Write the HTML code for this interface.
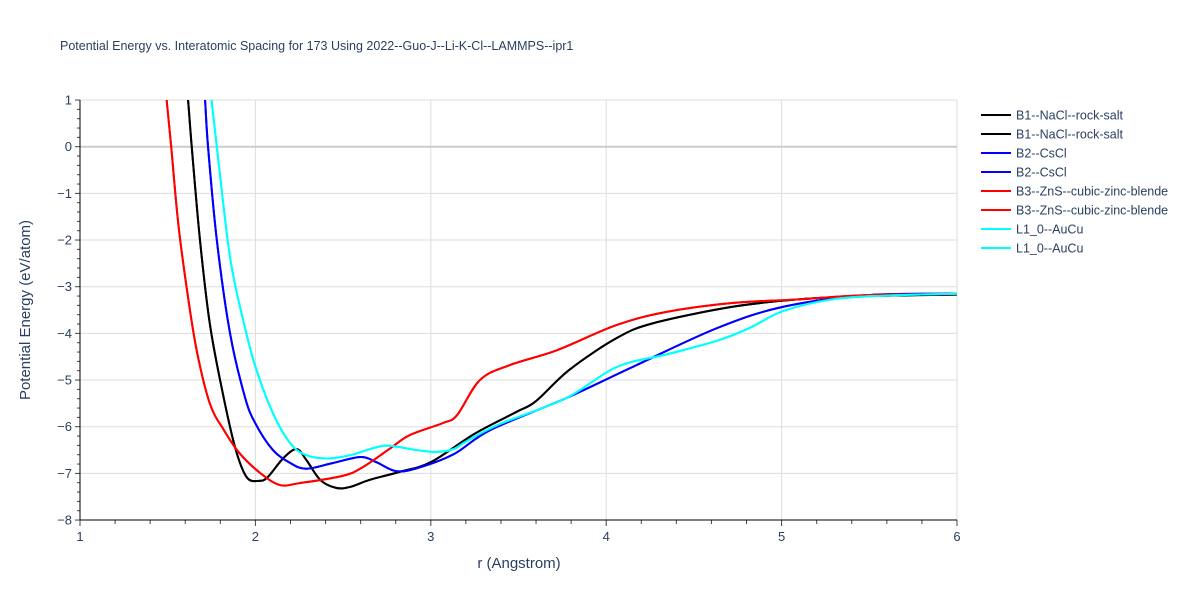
<!DOCTYPE html>
<html><head><meta charset="utf-8"><style>
body{margin:0;background:#fff;font-family:"Liberation Sans",sans-serif}
</style></head><body>
<svg id="chart" width="1200" height="600" xmlns="http://www.w3.org/2000/svg" font-family="Liberation Sans, sans-serif">
<rect width="1200" height="600" fill="#fff"/>
<text x="60" y="50" font-size="12.5" fill="#2a3f5f">Potential Energy vs. Interatomic Spacing for 173 Using 2022--Guo-J--Li-K-Cl--LAMMPS--ipr1</text>
<g id="grid"></g><g id="axes"></g>
<defs><clipPath id="clip"><rect x="80" y="100" width="877" height="420"/></clipPath></defs>
<g id="series" clip-path="url(#clip)"></g>
<g id="legend"></g>
<text x="519" y="568" font-size="15" fill="#2a3f5f" text-anchor="middle">r (Angstrom)</text>
<text transform="translate(30,310) rotate(-90)" font-size="15" fill="#2a3f5f" text-anchor="middle">Potential Energy (eV/atom)</text>
</svg>
<script>
const xTicks=[1,2,3,4,5,6];
const yTicks=[1,0,-1,-2,-3,-4,-5,-6,-7,-8];
const seriesNames=["B1--NaCl--rock-salt","B2--CsCl","B3--ZnS--cubic-zinc-blende","L1_0--AuCu"];
const seriesColors=["#000000","#0000ff","#ff0000","#00ffff"];
const b1R=[1.6,1.616,1.637,1.684,1.74,1.81,1.884,1.95,2.02,2.07,2.16,2.235,2.29,2.37,2.46,2.54,2.65,2.82,3.0,3.25,3.49,3.6,3.79,4.06,4.27,4.72,5.1,5.5,6.0];
const b1E=[1.5,1,0,-2,-3.79,-5.21,-6.44,-7.08,-7.16,-7.08,-6.67,-6.48,-6.71,-7.14,-7.31,-7.29,-7.14,-6.97,-6.76,-6.15,-5.68,-5.45,-4.78,-4.1,-3.78,-3.43,-3.27,-3.2,-3.17];
const b2R=[1.7,1.713,1.73,1.78,1.855,1.94,2.0,2.1,2.2,2.29,2.44,2.6,2.69,2.8,2.92,3.13,3.34,3.77,4.15,4.63,5.01,5.49,6.0];
const b2E=[1.5,1,0,-2,-3.99,-5.36,-5.93,-6.5,-6.78,-6.9,-6.78,-6.65,-6.76,-6.95,-6.89,-6.59,-6.07,-5.39,-4.72,-3.89,-3.43,-3.18,-3.15];
const b3R=[1.48,1.494,1.52,1.56,1.61,1.665,1.74,1.82,1.91,2.03,2.14,2.25,2.5,2.615,2.77,2.88,3.07,3.15,3.28,3.45,3.72,4.06,4.345,4.72,5.1,5.49,6.0];
const b3E=[1.5,1,0,-1.64,-3.07,-4.36,-5.5,-6.07,-6.57,-7.0,-7.25,-7.21,-7.05,-6.86,-6.46,-6.18,-5.92,-5.75,-5.0,-4.68,-4.36,-3.82,-3.54,-3.35,-3.27,-3.18,-3.16];
const l10R=[1.74,1.75,1.78,1.855,1.93,2.0,2.1,2.2,2.29,2.41,2.54,2.69,2.77,2.92,3.03,3.13,3.2,3.39,3.77,4.06,4.345,4.63,4.82,5.01,5.29,5.6,6.0];
const l10E=[1.5,1,0,-2.36,-3.71,-4.71,-5.71,-6.36,-6.61,-6.68,-6.61,-6.44,-6.41,-6.5,-6.54,-6.48,-6.32,-5.95,-5.39,-4.72,-4.45,-4.16,-3.88,-3.52,-3.27,-3.19,-3.15];
const allR=[b1R,b2R,b3R,l10R], allE=[b1E,b2E,b3E,l10E];
const X=r=>80+(r-1)*175.4, Y=e=>146.7-e*46.67;
const NS="http://www.w3.org/2000/svg";
function mk(t,a,p){const e=document.createElementNS(NS,t);for(const k in a)e.setAttribute(k,a[k]);p.appendChild(e);return e;}
const grid=document.getElementById('grid'),axes=document.getElementById('axes');
xTicks.forEach(t=>{
 if(t>1){const l=mk('line',{x1:X(t),x2:X(t),y1:100,y2:520,stroke:'#ddd','stroke-width':1},grid);
 
 }
 const tx=mk('text',{x:X(t),y:541,'font-size':13,fill:'#2a3f5f','text-anchor':'middle'},axes);tx.textContent=t;
 
 
});
for(let v=1;v<=6.001;v+=0.2){mk('line',{x1:X(v),x2:X(v),y1:520,y2:Math.abs(v-Math.round(v))<0.01?526:524,stroke:'#444'},axes);}
yTicks.forEach(t=>{
 if(t>-8){const l=mk('line',{x1:80,x2:957,y1:Y(t),y2:Y(t),stroke:t===0?'#ccc':'#ddd','stroke-width':t===0?2:1},grid);
 
 }
 const tx=mk('text',{x:72,y:Y(t)+4.5,'font-size':13,fill:'#2a3f5f','text-anchor':'end'},axes);tx.textContent=t<0?'\u2212'+(-t):t;
 
 
});
for(let v=-8;v<=1.001;v+=0.2){mk('line',{x1:80,x2:Math.abs(v-Math.round(v))<0.01?75:77,y1:Y(v),y2:Y(v),stroke:'#444'},axes);}
mk('line',{x1:80,x2:80,y1:100,y2:520,stroke:'#000'},axes);
mk('line',{x1:80,x2:957,y1:520,y2:520,stroke:'#000'},axes);
function path(rs,es){const p=rs.map((r,i)=>[X(r),Y(es[i])]);let d='M'+p[0];
 for(let i=0;i<p.length-1;i++){const p0=p[Math.max(0,i-1)],p1=p[i],p2=p[i+1],p3=p[Math.min(p.length-1,i+2)];
 const c1=[p1[0]+(p2[0]-p0[0])/6,p1[1]+(p2[1]-p0[1])/6],c2=[p2[0]-(p3[0]-p1[0])/6,p2[1]-(p3[1]-p1[1])/6];
 d+='C'+c1+' '+c2+' '+p2;}return d;}
const sg=document.getElementById('series'),lg=document.getElementById('legend');
let li=0;
allR.forEach((rs,i)=>{
 for(let k=0;k<2;k++){
 const pa=mk('path',{d:path(rs,allE[i]),fill:'none',stroke:seriesColors[i],'stroke-width':2},sg);
 
 
 const y=115+li*19;li++;
 const g=mk('g',{},lg);
 
 
 mk('line',{x1:981,x2:1011,y1:y,y2:y,stroke:seriesColors[i],'stroke-width':2},g);
 const t=mk('text',{x:1016,y:y+4.5,'font-size':12.5,fill:'#2a3f5f'},g);t.textContent=seriesNames[i];}
});
</script>
</body></html>
